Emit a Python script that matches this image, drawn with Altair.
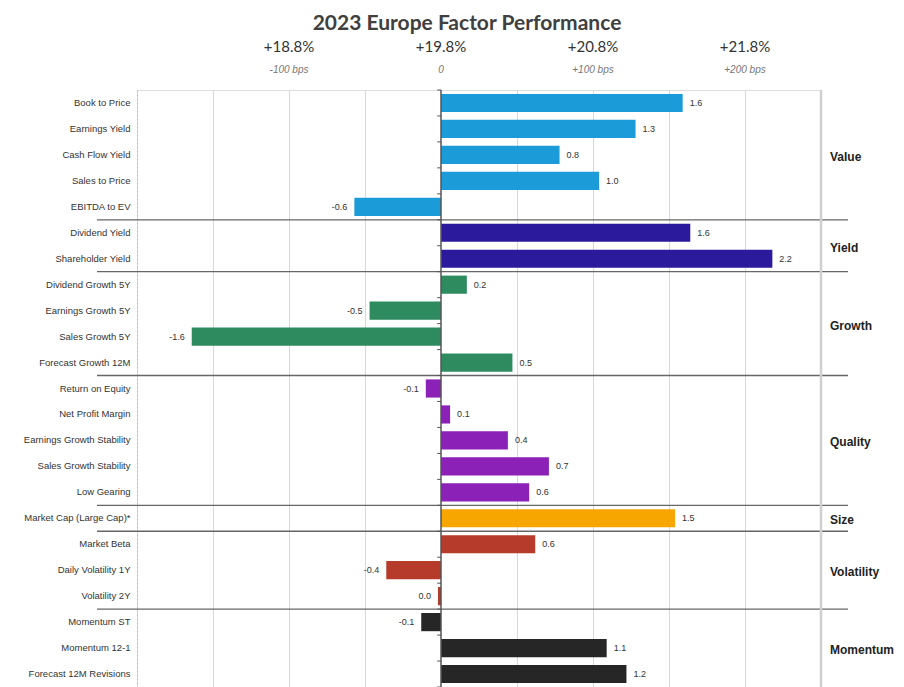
import altair as alt
import pandas as pd

factors = ["Book to Price", "Earnings Yield", "Cash Flow Yield", "Sales to Price", "EBITDA to EV",
           "Dividend Yield", "Shareholder Yield",
           "Dividend Growth 5Y", "Earnings Growth 5Y", "Sales Growth 5Y", "Forecast Growth 12M",
           "Return on Equity", "Net Profit Margin", "Earnings Growth Stability", "Sales Growth Stability", "Low Gearing",
           "Market Cap (Large Cap)*",
           "Market Beta", "Daily Volatility 1Y", "Volatility 2Y",
           "Momentum ST", "Momentum 12-1", "Forecast 12M Revisions"]
values = [1.59, 1.28, 0.78, 1.04, -0.57,
          1.64, 2.18,
          0.17, -0.47, -1.64, 0.47,
          -0.10, 0.06, 0.44, 0.71, 0.58,
          1.54,
          0.62, -0.36, -0.02,
          -0.13, 1.09, 1.22]
value_labels = ["1.6", "1.3", "0.8", "1.0", "-0.6",
                "1.6", "2.2",
                "0.2", "-0.5", "-1.6", "0.5",
                "-0.1", "0.1", "0.4", "0.7", "0.6",
                "1.5",
                "0.6", "-0.4", "0.0",
                "-0.1", "1.1", "1.2"]
group_names = ["Value", "Yield", "Growth", "Quality", "Size", "Volatility", "Momentum"]
group_sizes = [5, 2, 4, 5, 1, 3, 3]
group_colors = ["#1b9bd7", "#2c1a9c", "#2e8b60", "#8b21b6", "#f7a600", "#b63b2b", "#262626"]

tick_values = [-1, 0, 1, 2]
tick_pct = ["+18.8%", "+19.8%", "+20.8%", "+21.8%"]
tick_bps = ["-100 bps", "0", "+100 bps", "+200 bps"]
grid_values = [-1.5, -1, -0.5, 0.5, 1, 1.5, 2, 2.5]
x_domain = [-2, 2.5]

groups = []
for g, n in zip(group_names, group_sizes):
    groups += [g] * n
df = pd.DataFrame({"factor": factors, "value": values, "label": value_labels, "group": groups})

bounds, mids = [], []
acc = 0
for n in group_sizes:
    mids.append(acc + n / 2)
    acc += n
    bounds.append(acc)
bounds = bounds[:-1]
df_groups = pd.DataFrame({"group": group_names, "mid": mids})
df_bounds = pd.DataFrame({"pos": bounds})
df_rowticks = pd.DataFrame({"pos": list(range(len(factors) + 1))})
df_ticks = pd.DataFrame({"tick": tick_values, "pct": tick_pct, "bps": tick_bps})

W, H = 684, 597
LABEL_FONT = "Liberation Sans"

xscale = alt.Scale(domain=x_domain, nice=False, zero=False)
xaxis = alt.Axis(orient="top", values=grid_values, grid=True, labels=False, ticks=False,
                 domain=False, title=None, gridColor="#d8d8d8", gridWidth=1)
yscale = alt.Scale(domain=factors, paddingInner=0.3, paddingOuter=0.15)
yaxis = alt.Axis(title=None, ticks=False, labelPadding=7, labelFontSize=9.5, labelColor="#333333",
                 labelFont=LABEL_FONT, domainColor="#bbbbbb", domainDash=[2, 2], labelLimit=300)

base = alt.Chart(df)
bars = base.mark_bar().encode(
    x=alt.X("value:Q", scale=xscale, axis=xaxis),
    y=alt.Y("factor:N", sort=factors, scale=yscale, axis=yaxis),
    color=alt.Color("group:N", scale=alt.Scale(domain=group_names, range=group_colors), legend=None),
)
txt_pos = base.transform_filter("datum.value >= 0").mark_text(
    align="left", baseline="middle", dx=7, fontSize=9, font=LABEL_FONT, color="#333333"
).encode(
    x=alt.X("value:Q", scale=xscale, axis=xaxis),
    y=alt.Y("factor:N", sort=factors, scale=yscale, axis=yaxis),
    text="label:N",
)
txt_neg = base.transform_filter("datum.value < 0").mark_text(
    align="right", baseline="middle", dx=-7, fontSize=9, font=LABEL_FONT, color="#333333"
).encode(
    x=alt.X("value:Q", scale=xscale, axis=xaxis),
    y=alt.Y("factor:N", sort=factors, scale=yscale, axis=yaxis),
    text="label:N",
)
main = alt.layer(bars, txt_pos, txt_neg)

qy = alt.Scale(domain=[0, len(factors)], nice=False, zero=False, reverse=True)
seps = alt.Chart(df_bounds).mark_rule(color="#666666", strokeWidth=1.3).encode(
    x=alt.value(-40), x2=alt.value(711),
    y=alt.Y("pos:Q", scale=qy, axis=None),
)
rowticks = alt.Chart(df_rowticks).mark_rule(color="#555555", strokeWidth=1).encode(
    x=alt.datum(0, scale=xscale, axis=xaxis), x2=alt.datum(-0.025),
    y=alt.Y("pos:Q", scale=qy, axis=None),
)
glabels = alt.Chart(df_groups).mark_text(
    align="left", baseline="middle", fontSize=12, fontWeight="bold", font=LABEL_FONT, color="#222222", dy=2
).encode(
    x=alt.value(693),
    y=alt.Y("mid:Q", scale=qy, axis=None),
    text="group:N",
)
aux = alt.layer(seps, rowticks, glabels)

zero_rule = alt.Chart(pd.DataFrame({"z": [0]})).mark_rule(color="#555555", strokeWidth=1.5).encode(
    x=alt.X("z:Q", scale=xscale, axis=xaxis)
)
right_rule = alt.Chart(pd.DataFrame({"r": [x_domain[1]]})).mark_rule(color="#d0d0d0", strokeWidth=2.5).encode(
    x=alt.X("r:Q", scale=xscale, axis=xaxis)
)
top1 = alt.Chart(df_ticks).mark_text(
    baseline="middle", fontSize=15, font="Lato", color="#333333"
).encode(x=alt.X("tick:Q", scale=xscale, axis=xaxis), y=alt.value(-43), text="pct:N")
top2 = alt.Chart(df_ticks).mark_text(
    baseline="middle", fontSize=10, font=LABEL_FONT, fontStyle="italic", color="#777777"
).encode(x=alt.X("tick:Q", scale=xscale, axis=xaxis), y=alt.value(-20), text="bps:N")

chart = alt.layer(main, aux, zero_rule, right_rule, top1, top2).resolve_scale(
    y="independent"
).properties(
    width=W, height=H,
    title=alt.Title("2023 Europe Factor Performance", fontSize=21, font="Lato", fontWeight="bold",
                    color="#404040", anchor="middle", offset=6, dx=-12),
    autosize=alt.AutoSizeParams(type="none"),
    padding={"left": 129, "top": 82, "right": 75, "bottom": 0},
).configure_view(stroke=None).configure(background="white")

chart.save("out.html", embed_options={"renderer": "svg", "actions": False})
